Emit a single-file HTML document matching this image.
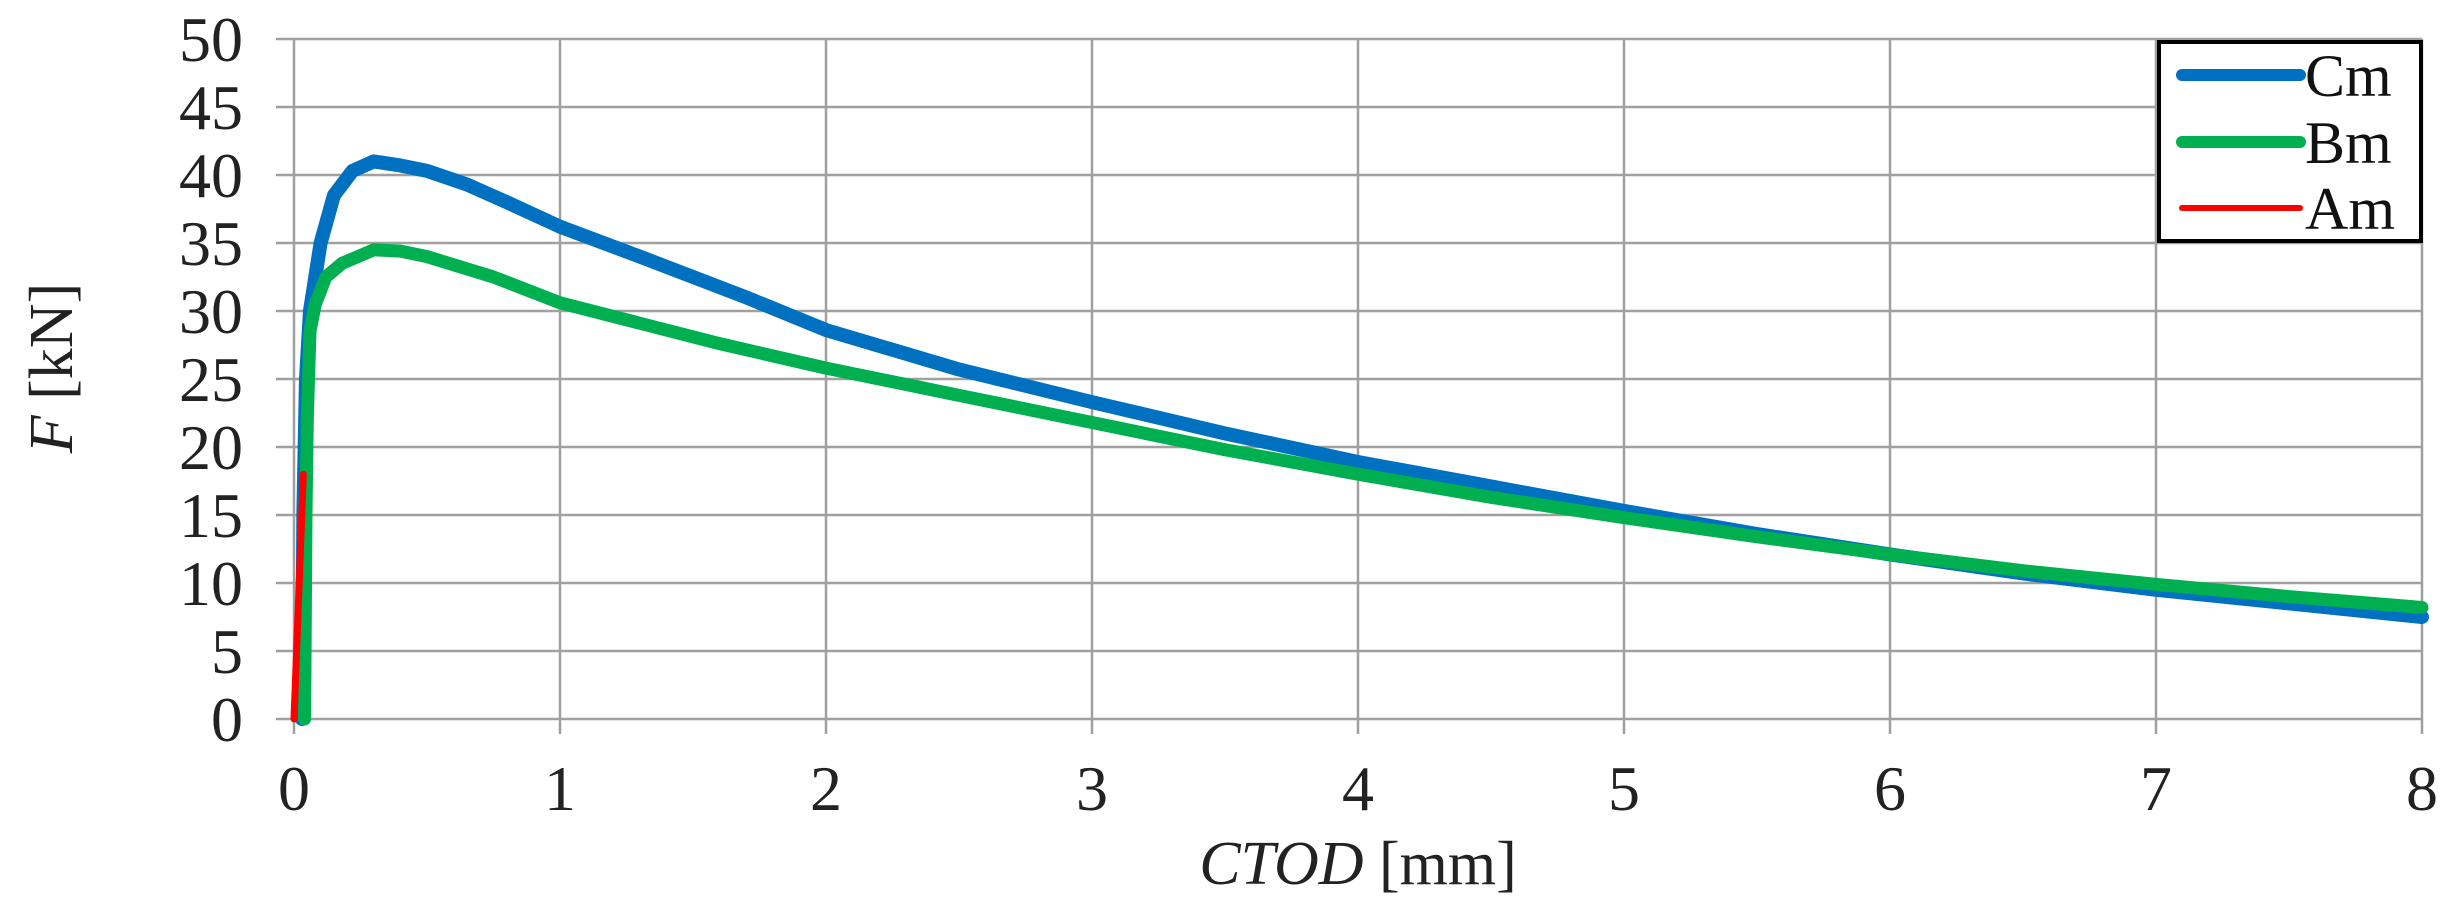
<!DOCTYPE html>
<html><head><meta charset="utf-8"><style>
html,body{margin:0;padding:0;background:#fff;}
svg{display:block;font-family:"Liberation Serif",serif;}
</style></head><body>
<svg width="2454" height="921" viewBox="0 0 2454 921" xmlns="http://www.w3.org/2000/svg">
<g stroke="#a0a0a0" stroke-width="2.5">
<line x1="276" y1="39" x2="2422" y2="39"/><line x1="276" y1="107" x2="2422" y2="107"/>
<line x1="276" y1="175" x2="2422" y2="175"/><line x1="276" y1="243" x2="2422" y2="243"/>
<line x1="276" y1="311" x2="2422" y2="311"/><line x1="276" y1="379" x2="2422" y2="379"/>
<line x1="276" y1="447" x2="2422" y2="447"/><line x1="276" y1="515" x2="2422" y2="515"/>
<line x1="276" y1="583" x2="2422" y2="583"/><line x1="276" y1="651" x2="2422" y2="651"/>
<line x1="276" y1="719" x2="2422" y2="719"/>
<line x1="294" y1="39" x2="294" y2="734"/><line x1="560" y1="39" x2="560" y2="734"/>
<line x1="826" y1="39" x2="826" y2="734"/><line x1="1092" y1="39" x2="1092" y2="734"/>
<line x1="1358" y1="39" x2="1358" y2="734"/><line x1="1624" y1="39" x2="1624" y2="734"/>
<line x1="1890" y1="39" x2="1890" y2="734"/><line x1="2156" y1="39" x2="2156" y2="734"/>
<line x1="2422" y1="39" x2="2422" y2="734"/>
</g>
<g font-size="64" fill="#222" text-anchor="end">
<text x="243" y="741">0</text><text x="243" y="673">5</text><text x="243" y="605">10</text>
<text x="243" y="537">15</text><text x="243" y="469">20</text><text x="243" y="401">25</text>
<text x="243" y="333">30</text><text x="243" y="265">35</text><text x="243" y="197">40</text>
<text x="243" y="129">45</text><text x="243" y="61">50</text>
</g>
<g font-size="64" fill="#222" text-anchor="middle">
<text x="294" y="810">0</text><text x="560" y="810">1</text><text x="826" y="810">2</text>
<text x="1092" y="810">3</text><text x="1358" y="810">4</text><text x="1624" y="810">5</text>
<text x="1890" y="810">6</text><text x="2156" y="810">7</text><text x="2422" y="810">8</text>
</g>
<text x="1358" y="884" font-size="62" fill="#222" text-anchor="middle"><tspan font-style="italic">CTOD</tspan> [mm]</text>
<text transform="translate(72,368) rotate(-90)" font-size="62" fill="#222" text-anchor="middle"><tspan font-style="italic">F</tspan> [kN]</text>
<g transform="translate(294,719) scale(266,-13.6)" fill="none" stroke-linejoin="round" stroke-linecap="round">
<polyline vector-effect="non-scaling-stroke" stroke="#0070c0" stroke-width="14" points="0.03,0 0.035,15 0.045,25 0.06,30 0.1,35 0.15,38.5 0.22,40.3 0.3,41 0.4,40.7 0.5,40.3 0.65,39.3 0.8,38 1,36.2 1.3,34 1.7,31 2,28.6 2.5,25.7 3,23.3 3.5,21 4,18.9 4.5,17.1 5,15.3 5.5,13.6 6,12.1 6.5,10.7 7,9.5 7.5,8.5 8,7.5"/>
<polyline vector-effect="non-scaling-stroke" stroke="#00b050" stroke-width="13" points="0.04,0 0.045,15 0.05,22 0.06,28.5 0.08,30.5 0.12,32.5 0.18,33.5 0.3,34.5 0.4,34.4 0.5,34 0.75,32.5 1,30.6 1.3,29.1 1.6,27.6 2,25.8 2.5,23.8 3,21.8 3.5,19.8 4,18 4.5,16.3 5,14.8 5.5,13.4 6,12.1 6.5,10.9 7,9.9 7.5,9 8,8.2"/>
<polyline vector-effect="non-scaling-stroke" stroke="#ff0000" stroke-width="7" points="0,0 0.035,18"/>
</g>
<rect x="2159" y="42" width="262" height="199" fill="#fff" stroke="#000" stroke-width="4"/>
<g stroke-linecap="round">
<line x1="2182" y1="75" x2="2300" y2="75" stroke="#0070c0" stroke-width="12"/>
<line x1="2182" y1="142" x2="2300" y2="142" stroke="#00b050" stroke-width="12"/>
<line x1="2182" y1="208" x2="2300" y2="208" stroke="#ff0000" stroke-width="6"/>
</g>
<g font-size="60" fill="#111">
<text x="2305" y="96">Cm</text><text x="2305" y="163">Bm</text><text x="2305" y="229">Am</text>
</g>
</svg>
</body></html>
